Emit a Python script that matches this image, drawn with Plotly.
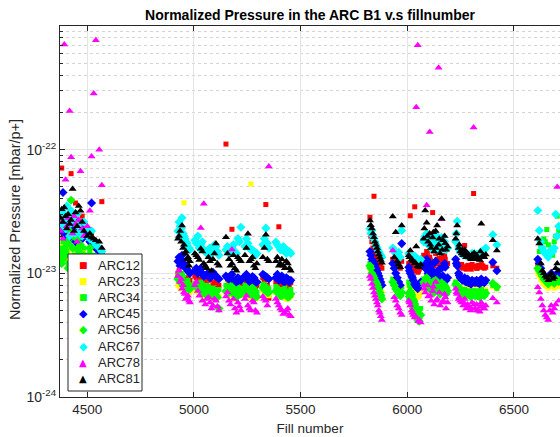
import plotly.graph_objects as go

# Values are in units of 1e-23 mbar/p+
UNIT = 1e-23

fill = [
    # cluster A
    4374, 4380, 4386, 4392, 4398, 4404, 4410, 4417, 4424, 4431, 4438, 4445, 4452, 4460, 4468, 4476, 4484, 4500, 4512, 4520, 4530, 4540, 4556, 4568,
    # cluster B
    4925, 4935, 4944, 4953, 4962, 4972, 4981,
    5004, 5018, 5032, 5046, 5060, 5075, 5089, 5103, 5117,
    5150, 5164, 5178, 5192, 5206, 5220,
    5239, 5253, 5267, 5281, 5295,
    5323, 5337, 5351,
    5384, 5398, 5412, 5426, 5440, 5454,
    # cluster C
    5825, 5834, 5844, 5853, 5862, 5871, 5881,
    5932, 5939, 5946, 5953, 5960, 5967, 5974,
    6007, 6014, 6021, 6028, 6035, 6042, 6049, 6056, 6063,
    6077, 6084, 6091, 6098, 6105, 6112, 6119, 6126, 6133, 6140, 6147, 6154, 6161, 6168, 6175, 6182, 6189,
    6227, 6234, 6241, 6248, 6255, 6262, 6269, 6276, 6283, 6290, 6297, 6304, 6311, 6318, 6325, 6332, 6340, 6347, 6354, 6361, 6368,
    6401, 6420,
    # cluster D
    6612, 6619, 6626, 6633, 6640, 6647, 6654, 6661, 6668, 6675, 6682, 6689, 6696, 6703, 6710,
    # further fills in clusters B and C
    4930, 4940, 4949, 4958, 4967, 4977, 5011, 5025, 5039, 5053, 5068, 5082, 5096, 5110, 5157, 5171, 5185, 5199, 5213,
    5246, 5260, 5274, 5288, 5330, 5344, 5391, 5405, 5419, 5433, 5447,
    5829, 5839, 5848, 5858, 5867, 5876, 6010, 6024, 6038, 6052, 6080, 6094, 6108, 6122, 6136, 6150, 6164, 6178,
    6230, 6244, 6258, 6272, 6286, 6300, 6314, 6328, 6343, 6357,
]

arc12 = [
    2.4, 7.1, 2.0, 2.6, 1.9, 2.3, 1.8, 2.2, 6.4, 2.5, 2.1, 3.7, 2.0, 2.4, 1.9, 2.9, 2.2, 2.0, 1.8, 2.1, 1.7, 1.6, 1.5, 3.8,
    1.0, 1.21, 0.95, 0.90, 0.85, 0.92, 0.88,
    0.95, 0.78, 0.90, 0.85, 0.82, 0.88, 0.80, 0.86, 0.80,
    11.1, 0.85, 2.27, 0.80, 0.88, 0.82,
    0.90, 0.85, 0.82, 0.88, 0.80,
    0.92, 3.6, 0.63,
    0.85, 2.38, 0.82, 0.88, 0.80, 0.84,
    2.84, 1.80, 4.2, 1.40, 1.30, 1.20, 1.10,
    1.30, 1.25, 1.20, 1.15, 1.15, 1.10, 1.25,
    1.20, 2.92, 1.15, 1.10, 3.45, 1.05, 1.02, 1.08, 1.12,
    1.40, 1.30, 1.50, 1.25, 1.35, 1.20, 3.10, 1.15, 1.45, 1.30, 1.20, 1.10, 1.35, 1.25, 1.40, 1.15, 1.20,
    1.30, 1.20, 1.15, 1.12, 1.18, 1.10, 1.68, 1.08, 1.15, 1.12, 1.10, 1.18, 4.42, 1.14, 1.10, 1.16, 1.12, 1.20, 1.15, 1.10, 1.12,
    1.15, 1.10,
    1.20, 1.10, 1.00, 0.95, 0.92, 0.90, 0.88, 0.86, 0.92, 0.95, 0.90, 0.88, 0.92, 0.95, 0.90,
    1.05, 0.98, 0.92, 0.88, 0.86, 0.84, 0.92, 0.86, 0.84, 0.80, 0.90, 0.78, 0.84, 0.76, 0.90, 0.82, 0.86, 0.80, 0.84,
    0.86, 0.82, 0.90, 0.78, 0.88, 0.80, 0.88, 0.80, 0.86, 0.82, 0.78,
    2.0, 1.6, 1.5, 1.35, 1.25, 1.15, 1.18, 1.12, 1.06, 1.04, 1.35, 1.45, 1.28, 1.52, 1.22, 1.32, 1.18, 1.30,
    1.25, 1.18, 1.14, 1.12, 1.16, 1.08, 1.14, 1.10, 1.16, 1.12,
]

arc23 = [
    1.5, 1.7, 1.4, 1.8, 1.3, 1.6, 1.5, 1.9, 1.6, 1.4, 1.7, 1.5, 1.3, 1.6, 1.8, 1.4, 1.5, 1.3, 1.4, 1.2, 1.3, 1.2, 1.2, 1.1,
    0.80, 0.75, 0.85, 3.72, 0.78, 0.72, 0.70,
    0.74, 0.70, 0.68, 0.64, 0.70, 0.66, 0.62, 0.68, 0.65,
    0.70, 0.66, 0.68, 0.64, 0.70, 0.66,
    0.68, 0.65, 5.28, 0.70, 0.63,
    0.72, 0.68, 0.66,
    0.70, 0.66, 0.64, 0.68, 0.62, 0.65,
    1.10, 0.95, 0.90, 0.85, 0.80, 0.75, 0.70,
    0.85, 0.82, 0.80, 0.78, 0.75, 0.72, 0.78,
    0.80, 0.75, 0.70, 0.72, 0.68, 0.65, 0.64, 0.66, 0.70,
    0.85, 0.80, 0.90, 0.78, 0.82, 0.75, 0.80, 0.72, 0.85, 0.78, 0.74, 0.70, 0.82, 0.76, 0.80, 0.72, 0.74,
    0.85, 0.80, 0.76, 0.74, 0.76, 0.73, 0.75, 0.72, 0.74, 0.76, 0.72, 0.75, 0.73, 0.71, 0.74, 0.72, 0.70, 0.76, 0.73, 0.72, 0.74,
    0.78, 0.75,
    1.00, 0.95, 0.90, 0.85, 0.82, 0.80, 0.78, 0.76, 0.80, 0.82, 0.78, 0.76, 0.80, 0.82, 0.78,
    0.82, 0.78, 0.80, 0.74, 0.72, 0.70, 0.72, 0.68, 0.70, 0.66, 0.64, 0.62, 0.66, 0.64, 0.68, 0.70, 0.62, 0.66, 0.68,
    0.66, 0.64, 0.68, 0.62, 0.70, 0.66, 0.68, 0.64, 0.66, 0.62, 0.64,
    1.05, 0.92, 0.88, 0.82, 0.78, 0.72, 0.78, 0.72, 0.66, 0.65, 0.82, 0.86, 0.78, 0.84, 0.76, 0.80, 0.74, 0.78,
    0.82, 0.78, 0.75, 0.74, 0.73, 0.72, 0.74, 0.72, 0.75, 0.73,
]

arc34 = [
    1.4, 1.6, 1.8, 1.3, 2.0, 1.5, 1.2, 1.7, 2.3, 1.9, 1.4, 1.6, 2.1, 1.5, 1.8, 1.3, 1.6, 1.4, 1.5, 1.3, 1.4, 1.2, 1.3, 1.2,
    0.95, 0.90, 1.00, 0.85, 0.80, 0.88, 0.78,
    0.82, 0.78, 0.85, 0.75, 0.80, 0.72, 0.76, 0.70, 0.74,
    0.80, 0.75, 0.85, 0.72, 0.78, 0.70,
    0.80, 0.76, 0.72, 0.78, 0.70,
    0.82, 0.78, 0.75,
    0.78, 0.74, 0.72, 0.76, 0.70, 0.74,
    1.20, 1.05, 0.95, 0.88, 0.80, 0.72, 0.65,
    0.90, 0.85, 0.80, 0.76, 0.72, 0.70, 0.78,
    0.85, 0.75, 0.70, 0.65, 0.60, 0.55, 0.50, 0.48, 0.52,
    0.90, 0.85, 0.95, 0.80, 0.88, 0.78, 0.84, 0.75, 0.92, 0.80, 0.76, 0.72, 0.86, 0.78, 0.82, 0.70, 0.74,
    0.85, 0.80, 0.76, 0.74, 0.72, 0.70, 0.74, 0.68, 0.72, 0.70, 0.66, 0.72, 0.70, 0.68, 0.72, 0.69, 0.66, 0.74, 0.70, 0.68, 0.71,
    0.80, 0.76,
    1.30, 1.50, 1.70, 1.60, 1.90, 1.80, 2.26, 1.70, 1.50, 1.60, 1.40, 1.80, 2.00, 2.90, 2.20,
    0.98, 0.92, 0.88, 0.84, 0.82, 0.80, 0.80, 0.76, 0.82, 0.74, 0.78, 0.70, 0.74, 0.72, 0.78, 0.80, 0.74, 0.70, 0.76,
    0.78, 0.74, 0.80, 0.68, 0.80, 0.76, 0.76, 0.70, 0.74, 0.72, 0.70,
    1.15, 1.00, 0.92, 0.84, 0.76, 0.68, 0.80, 0.68, 0.58, 0.49, 0.88, 0.92, 0.82, 0.90, 0.78, 0.84, 0.76, 0.80,
    0.82, 0.78, 0.74, 0.70, 0.68, 0.70, 0.72, 0.68, 0.72, 0.70,
]

arc45 = [
    2.6, 2.2, 4.5, 2.4, 2.0, 2.7, 1.9, 2.3, 2.5, 3.0, 2.2, 1.8, 2.6, 2.1, 2.4, 1.9, 2.2, 2.0, 1.8, 3.7, 1.7, 1.6, 1.5, 1.4,
    1.25, 1.15, 1.40, 1.20, 1.10, 1.05, 1.00,
    1.05, 1.00, 1.10, 0.95, 0.98, 0.92, 1.02, 0.95, 0.90,
    0.95, 0.90, 0.98, 0.86, 0.92, 0.88,
    0.95, 0.90, 0.88, 0.92, 0.85,
    0.98, 0.94, 0.90,
    0.92, 0.88, 0.95, 0.86, 0.90, 0.88,
    1.50, 1.30, 1.20, 1.10, 1.00, 0.90, 0.80,
    1.20, 1.10, 1.00, 0.92, 0.85, 0.80, 1.74,
    1.12, 1.00, 0.95, 0.88, 0.82, 0.78, 0.75, 0.80, 0.85,
    1.20, 1.10, 1.30, 1.00, 1.15, 0.95, 1.05, 0.92, 1.25, 1.00, 0.90, 0.85, 1.10, 0.95, 1.20, 0.88, 0.92,
    1.30, 1.15, 1.00, 0.92, 0.90, 0.88, 0.92, 0.85, 0.90, 0.86, 0.82, 0.88, 0.85, 0.84, 0.88, 0.86, 0.82, 0.90, 0.86, 0.84, 0.88,
    1.23, 1.05,
    1.30, 1.20, 1.10, 1.00, 0.95, 0.92, 0.90, 0.88, 0.95, 1.00, 0.92, 0.90, 0.95, 1.00, 0.95,
    1.35, 1.30, 1.18, 1.12, 1.08, 1.02, 1.10, 1.05, 1.00, 0.96, 1.00, 0.94, 0.98, 0.92, 0.92, 0.96, 0.88, 0.84, 0.90,
    0.98, 0.86, 0.94, 0.84, 0.96, 0.92, 0.98, 0.90, 0.86, 0.92, 0.85,
    1.40, 1.25, 1.15, 1.05, 0.95, 0.85, 1.05, 0.92, 0.80, 0.78, 1.15, 1.25, 1.05, 1.20, 0.98, 1.08, 0.94, 1.12,
    1.20, 0.96, 0.88, 0.86, 0.84, 0.82, 0.86, 0.84, 0.88, 0.85,
]

arc56 = [
    1.3, 1.2, 1.5, 1.6, 1.4, 1.8, 1.1, 2.2, 3.9, 1.6, 2.0, 1.3, 1.9, 1.5, 1.7, 1.2, 1.4, 1.3, 1.6, 1.2, 1.3, 1.1, 1.2, 1.1,
    0.90, 0.85, 0.95, 0.80, 0.78, 0.82, 0.75,
    0.80, 0.76, 0.72, 0.70, 0.74, 0.68, 0.72, 0.66, 0.52,
    0.72, 0.70, 0.78, 0.66, 0.74, 0.68,
    0.75, 0.70, 0.68, 0.74, 0.65,
    0.76, 0.72, 0.70,
    0.72, 0.68, 0.66, 0.70, 0.64, 0.68,
    1.15, 1.00, 0.92, 0.85, 0.78, 0.70, 0.62,
    0.85, 0.80, 0.75, 0.72, 0.68, 0.66, 0.70,
    0.69, 0.62, 0.58, 0.52, 0.48, 0.45, 0.42, 0.41, 0.46,
    0.85, 0.80, 0.92, 0.76, 0.82, 0.74, 0.80, 0.70, 0.88, 0.76, 0.72, 0.68, 0.84, 0.75, 0.80, 0.68, 0.72,
    0.82, 0.78, 0.74, 0.72, 0.70, 0.68, 0.72, 0.66, 0.70, 0.68, 0.65, 0.70, 0.67, 0.66, 0.70, 0.67, 0.64, 0.72, 0.68, 0.66, 0.69,
    0.83, 0.78,
    1.10, 1.05, 1.00, 0.95, 0.90, 0.88, 0.85, 0.82, 0.88, 0.90, 0.85, 0.83, 0.88, 0.90, 0.86,
    0.92, 0.88, 0.85, 0.80, 0.76, 0.74, 0.78, 0.74, 0.70, 0.68, 0.72, 0.66, 0.70, 0.64, 0.70, 0.74, 0.68, 0.64, 0.70,
    0.72, 0.68, 0.76, 0.64, 0.74, 0.70, 0.70, 0.66, 0.68, 0.66, 0.65,
    1.10, 0.96, 0.88, 0.82, 0.74, 0.66, 0.65, 0.55, 0.46, 0.43, 0.82, 0.88, 0.78, 0.86, 0.74, 0.80, 0.72, 0.78,
    0.80, 0.76, 0.72, 0.70, 0.68, 0.66, 0.70, 0.66, 0.70, 0.67,
]

arc67 = [
    2.9, 2.5, 3.1, 2.7, 2.3, 3.5, 2.4, 2.0, 3.2, 2.8, 2.6, 2.1, 3.0, 2.4, 2.2, 2.0, 2.6, 2.3, 1.9, 2.2, 1.8, 1.7, 1.6, 1.5,
    2.2, 2.4, 2.81, 2.0, 1.8, 1.65, 1.55,
    1.85, 2.0, 1.70, 1.55, 1.45, 1.60, 1.50, 1.65, 1.40,
    1.55, 1.45, 1.60, 1.50, 1.91, 2.36,
    1.65, 1.75, 1.55, 1.50, 1.45,
    1.70, 2.32, 1.60,
    1.79, 1.65, 1.55, 1.60, 1.50, 1.45,
    2.30, 2.22, 1.90, 1.70, 1.55, 1.45, 1.35,
    1.60, 1.50, 1.45, 1.40, 1.48, 1.35, 2.22,
    1.45, 1.40, 1.35, 1.30, 1.38, 1.32, 1.28, 1.25, 1.30,
    1.80, 2.00, 2.10, 1.70, 1.90, 1.60, 1.75, 1.55, 2.05, 1.85, 1.65, 1.50, 1.95, 1.70, 1.80, 1.55, 1.60,
    1.80, 2.64, 1.60, 1.50, 1.45, 1.40, 1.50, 1.38, 1.42, 1.40, 1.35, 1.45, 1.40, 1.36, 1.42, 1.38, 1.33, 1.50, 1.45, 1.55, 1.60,
    2.05, 1.70,
    3.22, 2.22, 1.80, 1.60, 1.50, 1.45, 1.40, 1.35, 1.45, 1.55, 1.50, 1.60, 3.00, 2.00, 2.40,
    2.6, 2.3, 2.1, 1.9, 1.75, 1.6, 1.75, 1.6, 1.8, 1.5, 1.55, 1.45, 1.7, 1.5, 1.65, 1.55, 1.70, 1.45, 1.80,
    1.90, 1.60, 1.55, 1.40, 1.90, 1.75, 1.70, 1.55, 1.65, 1.45, 1.50,
    2.10, 2.00, 1.80, 1.62, 1.50, 1.40, 1.42, 1.36, 1.34, 1.26, 1.90, 2.00, 1.75, 1.95, 1.65, 1.80, 1.62, 1.70,
    2.10, 1.55, 1.48, 1.42, 1.40, 1.38, 1.44, 1.36, 1.48, 1.52,
]

arc78 = [
    2.2, 2.6, 1.9, 71, 5.7, 2.4, 2.8, 20.5, 8.7, 2.1, 2.9, 2.5, 1.8, 2.7, 6.7, 2.3, 2.0, 2.4, 3.2, 8.8, 28.4, 76.7, 10.0, 5.15,
    0.95, 0.85, 0.75, 0.70, 0.62, 0.66, 0.58,
    0.80, 0.72, 2.33, 3.65, 0.62, 0.58, 0.55, 0.60, 0.50,
    0.65, 0.60, 1.56, 0.52, 0.58, 0.50,
    0.62, 0.55, 0.50, 0.58, 0.48,
    0.65, 0.60, 7.3,
    0.62, 0.55, 0.50, 0.48, 0.52, 0.45,
    0.95, 0.82, 0.70, 0.62, 0.55, 0.48, 0.42,
    1.53, 0.64, 0.60, 0.55, 0.52, 0.48, 0.46,
    0.60, 0.55, 0.50, 0.46, 0.44, 22, 70, 0.42, 0.40,
    0.80, 0.70, 3.55, 0.65, 13.9, 0.60, 0.72, 0.56, 0.85, 0.62, 46, 0.55, 2.74, 0.60, 0.68, 0.52, 0.58,
    0.75, 0.68, 0.62, 0.60, 0.58, 0.55, 0.62, 0.52, 0.56, 0.54, 0.50, 0.58, 15.1, 0.52, 0.56, 0.50, 0.49, 0.58, 0.54, 0.52, 0.55,
    0.63, 0.58,
    0.77, 0.70, 0.62, 0.55, 0.50, 0.46, 0.44, 0.42, 0.50, 0.55, 0.48, 0.52, 0.56, 5.00, 0.60,
    1.05, 0.90, 0.80, 0.68, 0.64, 0.60, 0.85, 0.66, 0.60, 0.56, 0.64, 0.52, 0.62, 0.54, 0.70, 0.56, 0.62, 0.48, 0.54,
    0.66, 0.52, 0.60, 0.50, 0.62, 0.55, 0.58, 0.52, 0.47, 0.50, 0.46,
    0.90, 0.76, 0.66, 0.58, 0.50, 0.45, 0.58, 0.48, 0.45, 0.41, 0.75, 0.80, 0.66, 0.78, 0.60, 0.70, 0.58, 0.64,
    0.70, 0.64, 0.60, 0.56, 0.54, 0.52, 0.56, 0.50, 0.54, 0.52,
]

arc81 = [
    2.8, 3.3, 2.6, 3.4, 2.9, 2.3, 3.0, 2.5, 2.7, 4.8, 2.2, 3.1, 2.4, 3.5, 3.2, 2.6, 2.2, 2.0, 2.1, 1.95, 1.9, 1.85, 1.8, 1.6,
    1.9, 2.2, 2.44, 1.7, 1.5, 1.35, 1.25,
    1.45, 1.35, 1.58, 1.20, 1.10, 1.25, 1.30, 1.74, 1.15,
    1.96, 1.30, 1.20, 1.10, 1.35, 1.25,
    1.40, 2.09, 1.30, 1.15, 1.20,
    1.35, 2.05, 1.25,
    1.25, 1.15, 1.30, 1.10, 1.20, 1.05,
    2.68, 2.30, 1.96, 1.70, 1.50, 1.35, 1.22,
    2.88, 1.35, 2.15, 1.25, 1.18, 1.12, 2.44,
    1.40, 1.53, 1.30, 1.25, 1.20, 1.65, 1.15, 1.12, 1.18,
    1.90, 3.22, 2.56, 1.80, 2.10, 1.60, 1.95, 1.50, 2.20, 2.44, 1.70, 1.45, 2.76, 1.85, 2.00, 1.55, 1.65,
    1.90, 2.44, 1.60, 1.50, 1.45, 1.40, 1.55, 1.35, 1.45, 1.38, 1.32, 1.42, 1.36, 1.30, 1.40, 1.34, 1.28, 2.52, 1.40, 1.35, 1.42,
    1.85, 1.53,
    1.90, 1.74, 1.20, 1.05, 1.00, 0.95, 0.92, 0.88, 0.95, 1.00, 0.90, 0.93, 1.10, 1.20, 1.05,
    2.0, 1.8, 1.6, 1.45, 1.30, 1.15, 1.40, 1.28, 1.50, 1.15, 1.35, 1.05, 1.45, 1.20, 1.45, 1.15, 1.40, 1.05, 1.30,
    1.60, 1.25, 1.35, 1.10, 1.60, 1.30, 1.35, 1.20, 1.15, 1.25, 1.10,
    2.45, 2.10, 1.80, 1.60, 1.42, 1.28, 1.35, 1.28, 1.22, 1.14, 2.30, 2.00, 1.70, 2.15, 1.60, 1.90, 1.55, 1.75,
    2.10, 1.70, 1.55, 1.48, 1.42, 1.30, 1.46, 1.32, 1.50, 1.38,
]

series_names = ["ARC12", "ARC23", "ARC34", "ARC45", "ARC56", "ARC67", "ARC78", "ARC81"]
series_vals = [arc12, arc23, arc34, arc45, arc56, arc67, arc78, arc81]
series_colors = ["#ff0000", "#ffff00", "#00ff00", "#0000ff", "#00ff00", "#00ffff", "#ff00ff", "#000000"]
series_symbols = ["square", "square", "square", "diamond", "diamond", "diamond", "triangle-up", "triangle-up"]
series_sizes = [5, 5, 5, 7, 7, 7, 7, 7]
legend_glyphs = {"square": ("\u25A0", 9), "diamond": ("\u25C6", 11), "triangle-up": ("\u25B2", 10)}

x_ticks = [4500, 5000, 5500, 6000, 6500]
y_ticks = [1e-24, 1e-23, 1e-22]
y_ticktext = ["10<sup>-24</sup>", "10<sup>-23</sup>", "10<sup>-22</sup>"]
y_minor = [k * 10.0 ** e for e in (-24, -23, -22) for k in range(2, 10)]

for v in series_vals:
    assert len(v) == len(fill), (len(v), len(fill))

fig = go.Figure()
for name, vals, col, sym, sz in zip(series_names, series_vals, series_colors, series_symbols, series_sizes):
    fig.add_trace(go.Scatter(
        x=fill, y=[v * UNIT for v in vals], mode="markers", name=name,
        marker=dict(color=col, symbol=sym, size=sz, line=dict(width=0)),
    ))

axis_col = "#262626"

# legend box (MATLAB-style, compact) drawn in plot-area paper coordinates
PLOT_L, PLOT_R, PLOT_T, PLOT_B = 60, 560, 26, 397
def px_x(p):
    return (p - PLOT_L) / (PLOT_R - PLOT_L)
def px_y(p):
    return (PLOT_B - p) / (PLOT_B - PLOT_T)

shapes = [dict(type="rect", xref="paper", yref="paper", x0=px_x(68), x1=px_x(142), y0=px_y(391), y1=px_y(254),
               line=dict(color=axis_col, width=1), fillcolor="white", layer="above")]
annotations = []
for i, (name, col, sym) in enumerate(zip(series_names, series_colors, series_symbols)):
    ry = px_y(265 + 16.2 * i)
    glyph, gsize = legend_glyphs[sym]
    annotations.append(dict(xref="paper", yref="paper", x=px_x(83), y=ry, text=glyph, showarrow=False,
                            xanchor="center", yanchor="middle",
                            font=dict(family="DejaVu Sans", size=gsize, color=col)))
    annotations.append(dict(xref="paper", yref="paper", x=px_x(96), y=ry, text=name, showarrow=False,
                            xanchor="left", yanchor="middle",
                            font=dict(family="Liberation Sans, Arial, sans-serif", size=13, color=axis_col)))

# y-axis title (placed like MATLAB's ylabel)
annotations.append(dict(xref="paper", yref="paper", x=px_x(15), y=px_y(220), text="Normalized Pressure [mbar/p+]",
                        showarrow=False, textangle=-90, xanchor="center", yanchor="middle",
                        font=dict(family="Liberation Sans, Arial, sans-serif", size=14.5, color=axis_col)))

fig.update_layout(
    width=560, height=437,
    margin=dict(l=PLOT_L, r=560 - PLOT_R, t=PLOT_T, b=437 - PLOT_B),
    plot_bgcolor="white", paper_bgcolor="white",
    font=dict(family="Liberation Sans, Arial, sans-serif", size=13, color=axis_col),
    title=dict(text="<b>Normalized Pressure in the ARC B1 v.s fillnumber</b>",
               x=0.5, xref="paper", xanchor="center",
               y=1 - 15 / 437, yref="container", yanchor="middle",
               font=dict(size=14, color="#000000")),
    showlegend=False,
    shapes=shapes,
    annotations=annotations,
    xaxis=dict(range=[4372, 6716], tickvals=x_ticks, showgrid=True, gridcolor="#e4e4e4", gridwidth=1,
               showline=True, linecolor=axis_col, linewidth=1, mirror="ticks",
               ticks="inside", ticklen=5, tickcolor=axis_col, zeroline=False,
               tickfont=dict(size=13.5),
               title=dict(text="Fill number", standoff=7, font=dict(size=13.5))),
    yaxis=dict(type="log", range=[-24, -21], tickvals=y_ticks, ticktext=y_ticktext,
               showgrid=True, gridcolor="#e4e4e4", gridwidth=1,
               showline=True, linecolor=axis_col, linewidth=1, mirror=False,
               ticks="inside", ticklen=5, tickcolor=axis_col, zeroline=False,
               tickfont=dict(size=14),
               minor=dict(tickvals=y_minor, ticks="inside", ticklen=3, tickcolor=axis_col,
                          showgrid=True, gridcolor="#d4d4d4", griddash="dot", gridwidth=1)),
)

fig.write_html("out.html")
